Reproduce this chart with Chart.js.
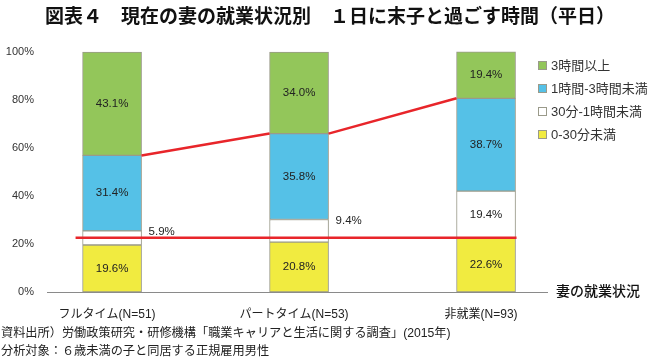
<!DOCTYPE html>
<html>
<head>
<meta charset="utf-8">
<script src="https://cdn.jsdelivr.net/npm/chart.js@4"></script>
<style>
html,body{margin:0;padding:0;background:#fff;}
#wrap{width:650px;height:357px;position:relative;}
</style>
</head>
<body>
<div id="wrap"><canvas id="c" width="650" height="357"></canvas></div>
<script>
const titleText = '図表４　現在の妻の就業状況別　１日に末子と過ごす時間（平日）';
const categories = ['フルタイム(N=51)', 'パートタイム(N=53)', '非就業(N=93)'];
const seriesNames = ['0-30分未満', '30分-1時間未満', '1時間-3時間未満', '3時間以上'];
const under30min = [19.6, 20.8, 22.6];
const min30to1h = [5.9, 9.4, 19.4];
const h1to3 = [31.4, 35.8, 38.7];
const h3plus = [43.1, 34.0, 19.4];
const yTicks = [0, 20, 40, 60, 80, 100];
const refLineValue = 22.6;
const axisTitle = '妻の就業状況';
const footnotes = ['資料出所）労働政策研究・研修機構「職業キャリアと生活に関する調査」(2015年)', '分析対象：６歳未満の子と同居する正規雇用男性'];

const colors = ['#f1eb40', '#ffffff', '#55c1e7', '#93c65a'];
const borderCol = '#9a9a8a';
const LATIN = '"Liberation Sans", "Noto Sans CJK JP", sans-serif';
const JP = '"Noto Sans CJK JP", sans-serif';

const seriesValues = [under30min, min30to1h, h1to3, h3plus];
const datasets = seriesValues.map((vals, k) => ({
  label: seriesNames[k],
  data: vals.map((v, i) => ({x: i, y: v})),
  backgroundColor: colors[k],
  borderColor: borderCol,
  borderWidth: 1,
  borderSkipped: false,
  barThickness: 59,
  clip: false
}));

const overlay = {
  id: 'overlay',
  afterDatasetsDraw(chart) {
    const ctx = chart.ctx;
    const y = chart.scales.y;
    const metas = chart.data.datasets.map((d, k) => chart.getDatasetMeta(k));
    ctx.save();
    ctx.strokeStyle = '#e8252a';
    ctx.lineWidth = 2.5;
    const cum = categories.map((c, i) => under30min[i] + min30to1h[i] + h1to3[i]);
    const bars = metas[2].data;
    ctx.beginPath();
    for (let i = 0; i < categories.length - 1; i++) {
      const b0 = bars[i], b1 = bars[i + 1];
      ctx.moveTo(b0.x + b0.width / 2, y.getPixelForValue(cum[i]));
      ctx.lineTo(b1.x - b1.width / 2, y.getPixelForValue(cum[i + 1]));
    }
    ctx.stroke();
    const first = metas[0].data[0], last = metas[0].data[categories.length - 1];
    const ry = y.getPixelForValue(refLineValue);
    ctx.beginPath();
    ctx.moveTo(first.x - first.width / 2 - 7, ry);
    ctx.lineTo(last.x + last.width / 2 + 1, ry);
    ctx.stroke();
    ctx.restore();

    ctx.save();
    ctx.font = '11.5px ' + LATIN;
    ctx.fillStyle = '#222';
    let base = categories.map(() => 0);
    seriesValues.forEach((vals, k) => {
      metas[k].data.forEach((bar, i) => {
        const v = vals[i];
        const txt = v.toFixed(1) + '%';
        ctx.textBaseline = 'middle';
        if (v < 12) {
          ctx.textAlign = 'left';
          ctx.fillText(txt, bar.x + bar.width / 2 + 7, y.getPixelForValue(base[i] + v) + 1);
        } else {
          ctx.textAlign = 'center';
          ctx.fillText(txt, bar.x, y.getPixelForValue(base[i] + v / 2));
        }
        base[i] += v;
      });
    });
    ctx.restore();
  },
  afterDraw(chart) {
    const ctx = chart.ctx;
    const ca = chart.chartArea;
    ctx.save();
    ctx.fillStyle = '#111';
    ctx.font = 'bold 19px ' + JP;
    ctx.textAlign = 'center';
    ctx.textBaseline = 'middle';
    ctx.fillText(titleText, 330, 16);
    ctx.font = '500 14px ' + JP;
    ctx.textAlign = 'left';
    ctx.fillText(axisTitle, ca.right + 9, ca.bottom - 1);
    ctx.font = '12.2px ' + LATIN;
    ctx.fillStyle = '#222';
    ctx.fillText(footnotes[0], 1, 333.5);
    ctx.fillText(footnotes[1], 1, 351.5);
    ctx.font = '13px ' + LATIN;
    const order = [3, 2, 1, 0];
    const rowsY = [66, 89, 112, 135];
    order.forEach((k, r) => {
      const yy = rowsY[r];
      ctx.fillStyle = colors[k];
      ctx.fillRect(538.5, yy - 4.5, 8, 8);
      ctx.strokeStyle = borderCol;
      ctx.lineWidth = 1;
      ctx.strokeRect(538.5, yy - 4.5, 8, 8);
      ctx.fillStyle = '#333';
      ctx.fillText(seriesNames[k], 551, yy);
    });
    ctx.restore();
  }
};

new Chart(document.getElementById('c'), {
  type: 'bar',
  data: {datasets},
  options: {
    responsive: false,
    animation: false,
    events: [],
    layout: {padding: {top: 52, right: 103, left: 0, bottom: 0}},
    plugins: {legend: {display: false}, tooltip: {enabled: false}, title: {display: false}},
    scales: {
      x: {
        type: 'linear',
        stacked: true,
        offset: false,
        min: -0.348,
        max: 2.326,
        grid: {display: false, drawTicks: false, offset: false},
        border: {display: true, color: '#8a8a8a', width: 1},
        afterFit(s) { s.height = 65; },
        afterBuildTicks(s) { s.ticks = categories.map((c, i) => ({value: i})); },
        ticks: {
          autoSkip: false,
          maxRotation: 0,
          padding: 15,
          labelOffset: -5,
          color: '#222',
          font: {size: 12, family: LATIN},
          callback: (v) => categories[v]
        }
      },
      y: {
        stacked: true,
        min: 0,
        max: 100,
        grid: {display: false, drawTicks: false},
        border: {display: false},
        afterFit(s) { s.width = 47; },
        afterBuildTicks(s) { s.ticks = yTicks.map(v => ({value: v})); },
        ticks: {
          padding: 13,
          color: '#333',
          font: {size: 11, family: LATIN},
          callback: (v) => v + '%'
        }
      }
    }
  },
  plugins: [overlay]
});
</script>
</body>
</html>
